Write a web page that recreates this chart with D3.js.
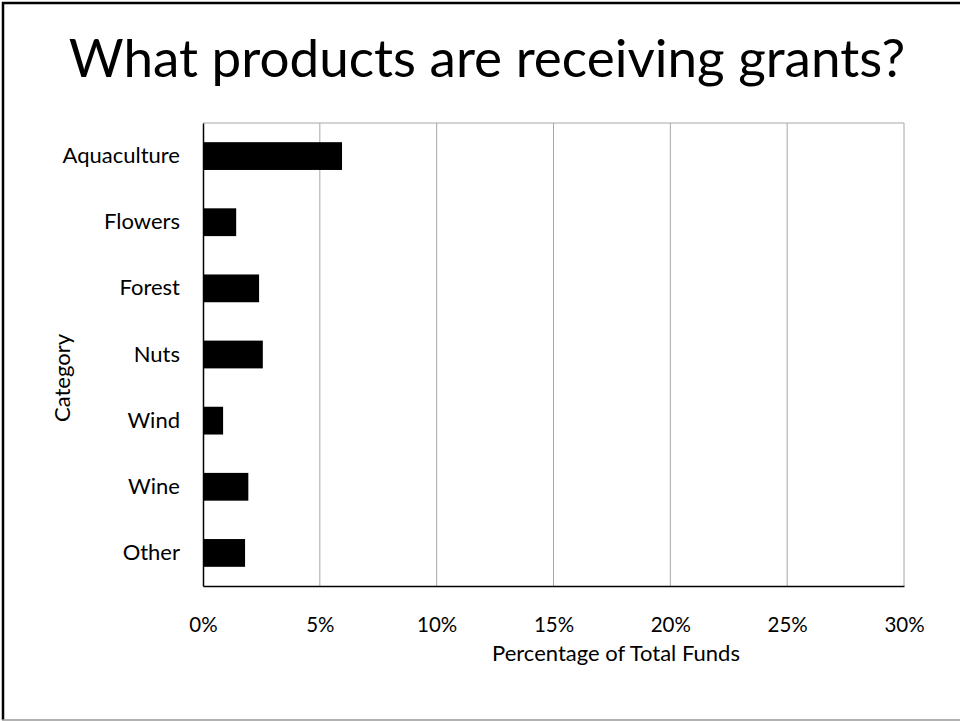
<!DOCTYPE html>
<html>
<head>
<meta charset="utf-8">
<script src="https://cdn.jsdelivr.net/npm/d3@7"></script>
<style>
  body { margin: 0; background: #fff; }
  svg { display: block; font-family: Lato, "Open Sans", sans-serif; }
</style>
</head>
<body>
<svg id="chart"></svg>
<script>
// grant share by product category (fraction of total funds)
const categories = ["Aquaculture", "Flowers", "Forest", "Nuts", "Wind", "Wine", "Other"];
const shares = [0.0595, 0.0142, 0.0240, 0.0256, 0.0086, 0.0194, 0.0180];
const tickValues = [0, 0.05, 0.10, 0.15, 0.20, 0.25, 0.30];

const data = categories.map((c, i) => ({category: c, value: shares[i]}));

const W = 960, H = 721;
const margin = {top: 123, right: 56, bottom: 135, left: 203};
const width = W - margin.left - margin.right,
      height = H - margin.top - margin.bottom;

const svg = d3.select("#chart")
    .attr("width", W)
    .attr("height", H);

// slide frame
svg.append("line").attr("x1", 3).attr("x2", 3).attr("y1", 2).attr("y2", 720)
    .attr("stroke", "#000").attr("stroke-width", 2.5);
svg.append("line").attr("x1", 2).attr("x2", 960).attr("y1", 3).attr("y2", 3)
    .attr("stroke", "#000").attr("stroke-width", 2.5);
svg.append("line").attr("x1", 2).attr("x2", 960).attr("y1", 720).attr("y2", 720)
    .attr("stroke", "#999").attr("stroke-width", 1.5);

// title
svg.append("text")
    .attr("x", 487)
    .attr("y", 77)
    .attr("text-anchor", "middle")
    .style("font-size", "53px")
    .text("What products are receiving grants?");

const chart = svg.append("g")
    .attr("transform", `translate(${margin.left},${margin.top})`);

const x = d3.scaleLinear()
    .domain([0, 0.30])
    .range([0, width]);

const y = d3.scaleBand()
    .domain(categories)
    .range([0, height])
    .paddingInner(0.58)
    .paddingOuter(0.29);

// vertical gridlines
chart.append("g")
    .selectAll("line")
    .data(tickValues.slice(1))
    .join("line")
    .attr("x1", d => x(d))
    .attr("x2", d => x(d))
    .attr("y1", 0)
    .attr("y2", height)
    .attr("stroke", "#a6a6a6")
    .attr("stroke-width", 1);

// plot area top border
chart.append("line")
    .attr("x1", 0).attr("x2", width)
    .attr("y1", 0).attr("y2", 0)
    .attr("stroke", "#a6a6a6");

// bars
chart.append("g")
    .selectAll("rect")
    .data(data)
    .join("rect")
    .attr("x", 0)
    .attr("y", d => y(d.category))
    .attr("width", d => x(d.value))
    .attr("height", y.bandwidth())
    .attr("fill", "#000");

// x axis
const xAxis = chart.append("g")
    .attr("transform", `translate(0,${height})`)
    .call(d3.axisBottom(x)
        .tickValues(tickValues)
        .tickFormat(d3.format(".0%"))
        .tickSize(0)
        .tickPadding(31));
xAxis.select(".domain").attr("stroke", "#000").attr("stroke-width", 1.5);
xAxis.selectAll("text")
    .style("font-family", "Lato, sans-serif")
    .style("font-size", "20.5px")
    .attr("fill", "#000");

// y axis
const yAxis = chart.append("g")
    .call(d3.axisLeft(y).tickSize(0).tickPadding(23));
yAxis.select(".domain").attr("stroke", "#000").attr("stroke-width", 1.5);
yAxis.selectAll("text")
    .style("font-family", "Lato, sans-serif")
    .style("font-size", "22px")
    .attr("fill", "#000");

// axis titles
svg.append("text")
    .attr("x", 616)
    .attr("y", 661)
    .attr("text-anchor", "middle")
    .style("font-size", "22px")
    .text("Percentage of Total Funds");

svg.append("text")
    .attr("transform", "translate(70,378) rotate(-90)")
    .attr("text-anchor", "middle")
    .style("font-size", "22px")
    .text("Category");
</script>
</body>
</html>
